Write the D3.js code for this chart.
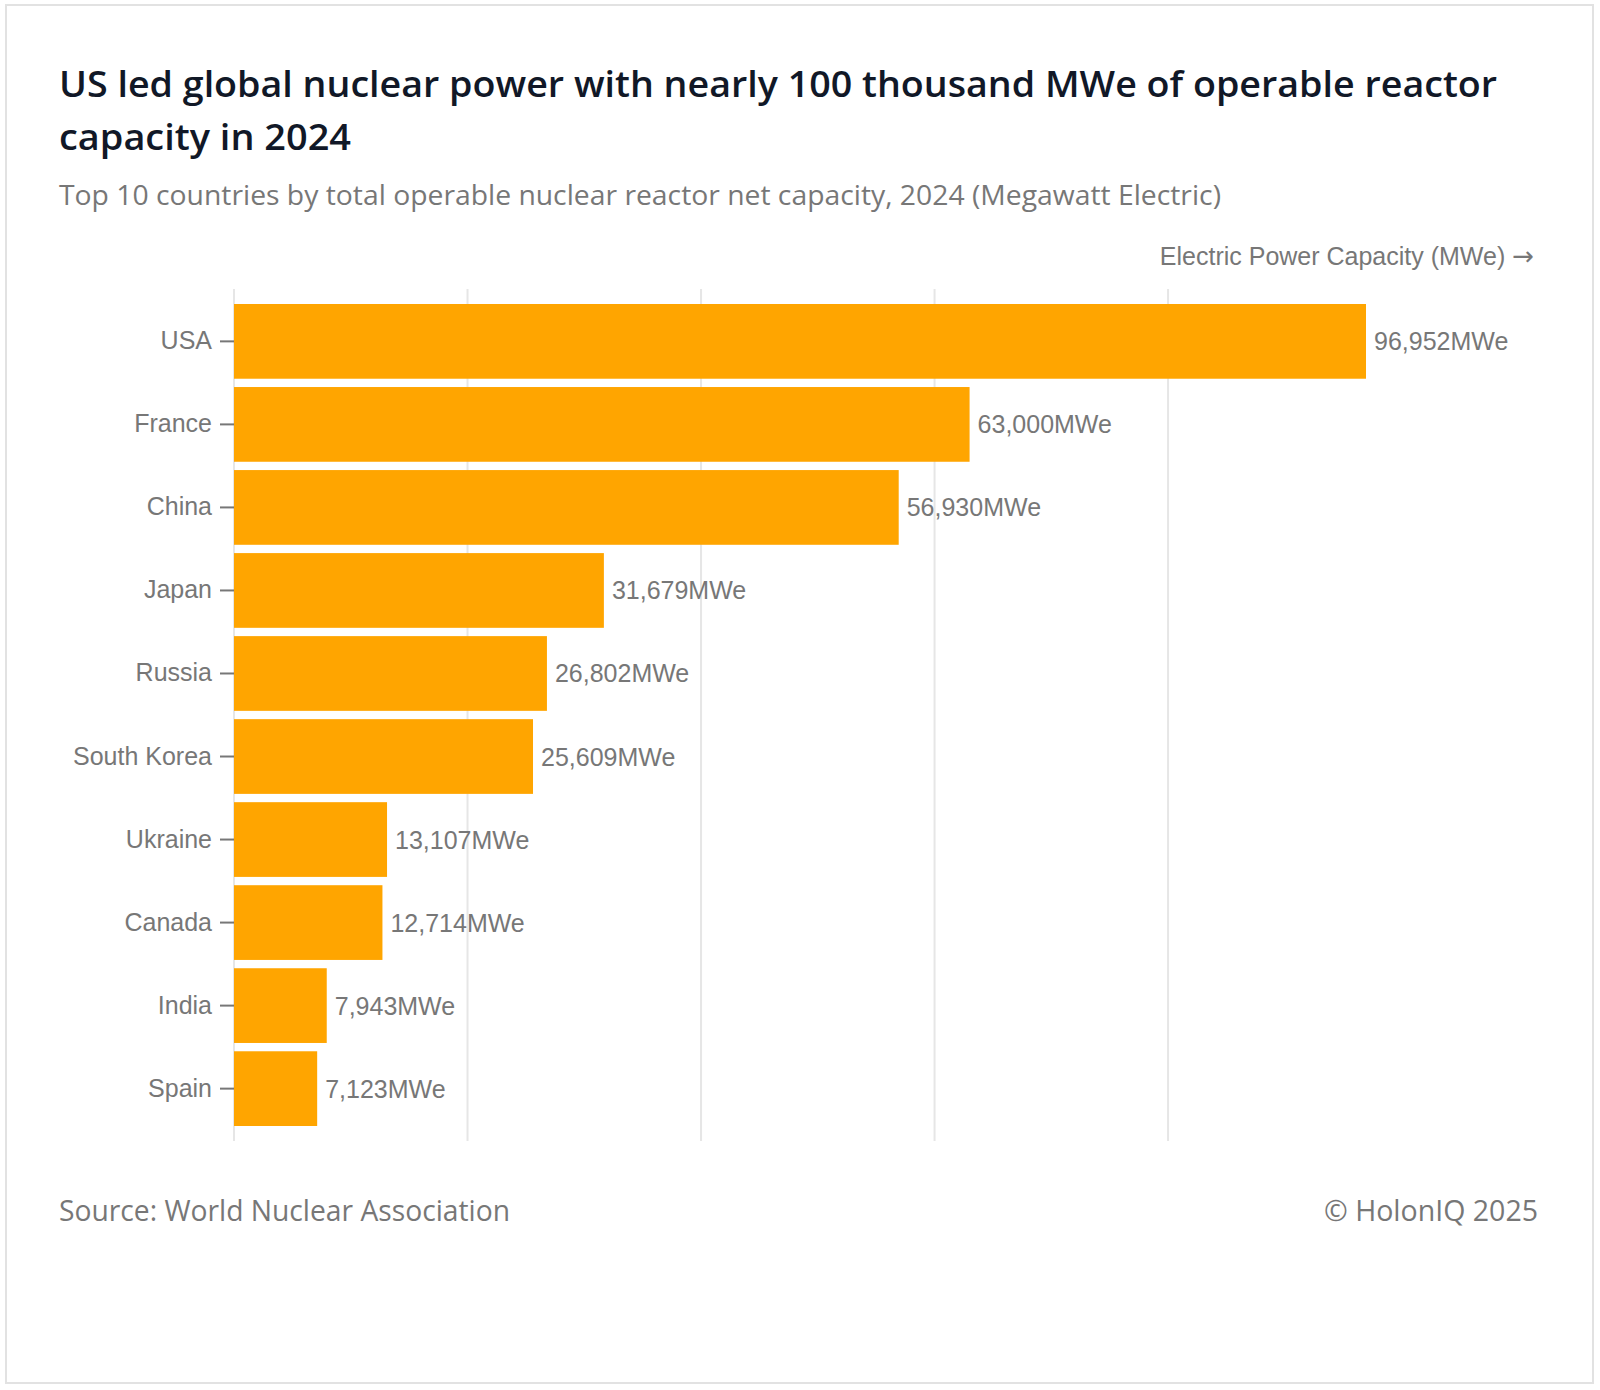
<!DOCTYPE html>
<html>
<head>
<meta charset="utf-8">
<script src="https://cdn.jsdelivr.net/npm/d3@7"></script>
<style>
	html, body { margin: 0; padding: 0; background: #fff; }
	svg { display: block; }
</style>
</head>
<body>
<svg id="chart" width="1600" height="1390"></svg>
<script>
'use strict';

var countries = ["USA", "France", "China", "Japan", "Russia", "South Korea", "Ukraine", "Canada", "India", "Spain"];
var capacity = [96952, 63000, 56930, 31679, 26802, 25609, 13107, 12714, 7943, 7123];
var gridTicks = [0, 20000, 40000, 60000, 80000];

var titleLines = ["US led global nuclear power with nearly 100 thousand MWe of operable reactor", "capacity in 2024"];
var subtitle = "Top 10 countries by total operable nuclear reactor net capacity, 2024 (Megawatt Electric)";
var axisLabel = "Electric Power Capacity (MWe) ";
var source = "Source: World Nuclear Association";
var credit = "\u00a9 HolonIQ 2025";

var svg = d3.select("#chart");

var headFont = "'Open Sans', 'Noto Sans', sans-serif";
var plotFont = "'Liberation Sans', Arial, sans-serif";
var grey = "#777";

// stretch or squeeze a text to the width it has in the original
function fitWidth(sel, w) {
	sel.attr("textLength", w).attr("lengthAdjust", "spacingAndGlyphs");
}

// frame
svg.append("rect")
	.attr("x", 6)
	.attr("y", 5)
	.attr("width", 1587)
	.attr("height", 1378)
	.attr("fill", "#fff")
	.attr("stroke", "#e2e2e2")
	.attr("stroke-width", 2);

// title
var titleWidths = [1438, 292];
titleLines.forEach(function(line, i) {
	var t = svg.append("text")
		.attr("x", 59)
		.attr("y", 97 + i * 53)
		.attr("font-family", headFont)
		.attr("font-size", 36)
		.attr("font-weight", 600)
		.attr("fill", "#111827")
		.text(line);
	fitWidth(t, titleWidths[i]);
});

var sub = svg.append("text")
	.attr("x", 59)
	.attr("y", 205)
	.attr("font-family", headFont)
	.attr("font-size", 28)
	.attr("fill", grey)
	.text(subtitle);
fitWidth(sub, 1162);

// scales
var x = d3.scaleLinear()
	.domain([0, d3.max(capacity)])
	.range([234, 1366]);

var y = d3.scaleBand()
	.domain(countries)
	.range([295.7, 1134.3])
	.paddingInner(0.1)
	.paddingOuter(0.1);

// grid
svg.append("g")
	.selectAll("line")
	.data(gridTicks)
	.enter()
	.append("line")
	.attr("x1", function(d) { return x(d); })
	.attr("x2", function(d) { return x(d); })
	.attr("y1", 289)
	.attr("y2", 1141)
	.attr("stroke", "#e6e6e6")
	.attr("stroke-width", 2);

// axis label
var lab = svg.append("text")
	.attr("x", 1534)
	.attr("y", 265)
	.attr("text-anchor", "end")
	.attr("font-family", plotFont)
	.attr("font-size", 25)
	.attr("fill", grey);
lab.append("tspan").text(axisLabel);
lab.append("tspan")
	.attr("font-family", "'DejaVu Sans', sans-serif")
	.attr("font-size", 26)
	.text("\u2192");

// y axis
var yAxis = d3.axisLeft(y)
	.tickSize(14)
	.tickPadding(8);

var yG = svg.append("g")
	.attr("transform", "translate(" + x(0) + ",0)")
	.call(yAxis);

yG.select(".domain").remove();
yG.selectAll(".tick line")
	.attr("stroke", grey)
	.attr("stroke-width", 2);
yG.selectAll(".tick text")
	.attr("font-family", plotFont)
	.attr("font-size", 25)
	.attr("fill", grey);

var rows = countries.map(function(c, i) {
	return { country: c, value: capacity[i] };
});

// bars
svg.append("g")
	.selectAll("rect")
	.data(rows)
	.enter()
	.append("rect")
	.attr("x", x(0))
	.attr("y", function(d) { return y(d.country); })
	.attr("width", function(d) { return x(d.value) - x(0); })
	.attr("height", y.bandwidth())
	.attr("fill", "#ffa500");

// value labels
var fmt = d3.format(",");
svg.append("g")
	.selectAll("text")
	.data(rows)
	.enter()
	.append("text")
	.attr("x", function(d) { return x(d.value) + 8; })
	.attr("y", function(d) { return y(d.country) + y.bandwidth() / 2; })
	.attr("dy", "0.36em")
	.attr("font-family", plotFont)
	.attr("font-size", 25)
	.attr("fill", grey)
	.text(function(d) { return fmt(d.value) + "MWe"; });

// footer
var src = svg.append("text")
	.attr("x", 59)
	.attr("y", 1221)
	.attr("font-family", headFont)
	.attr("font-size", 30)
	.attr("fill", grey)
	.text(source);
fitWidth(src, 451);

var cr = svg.append("text")
	.attr("x", 1538)
	.attr("y", 1221)
	.attr("text-anchor", "end")
	.attr("font-family", headFont)
	.attr("font-size", 30)
	.attr("fill", grey)
	.text(credit);
fitWidth(cr, 214);
</script>
</body>
</html>
